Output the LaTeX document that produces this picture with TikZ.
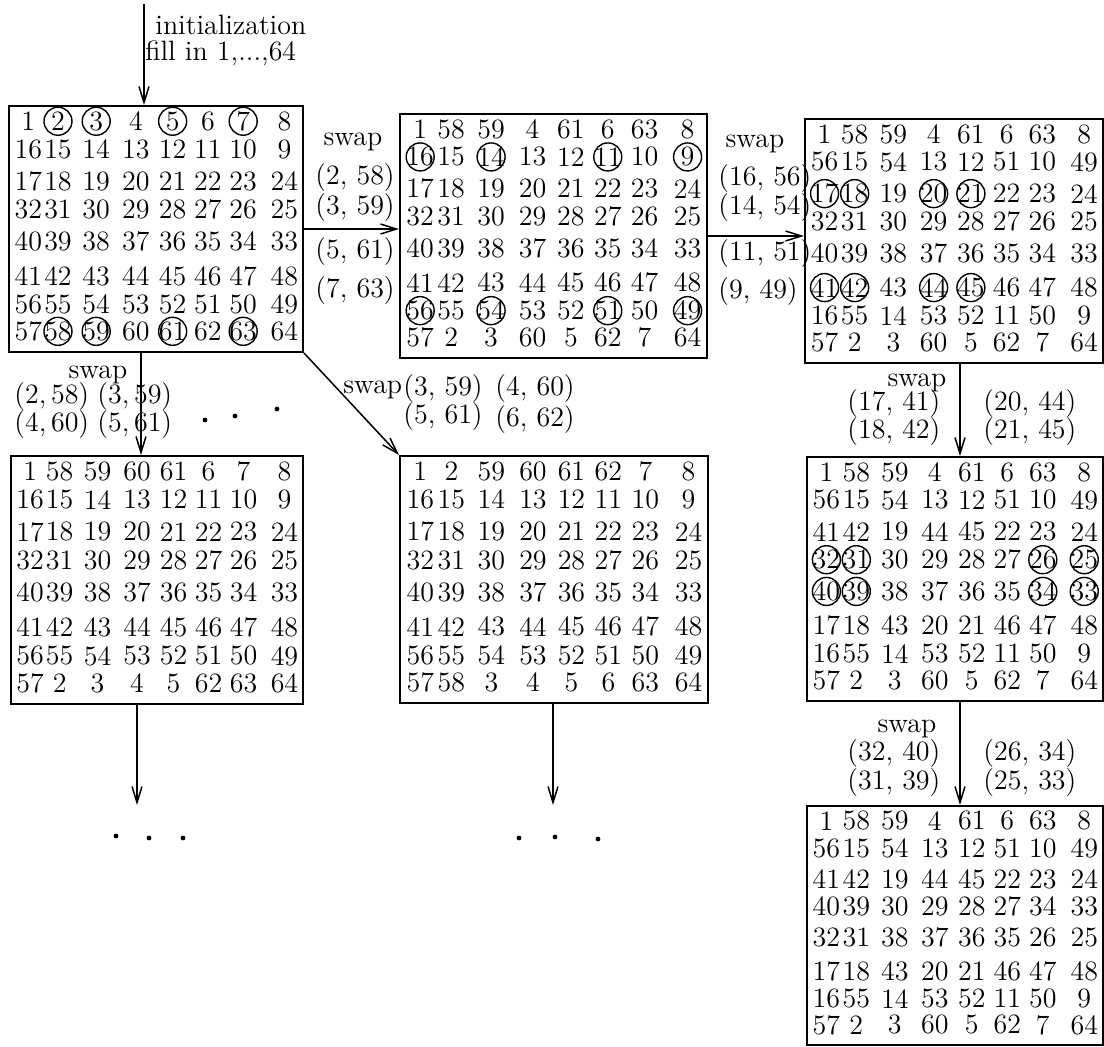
\documentclass[tikz,border=0pt]{standalone}
\usetikzlibrary{arrows.meta}
\tikzset{
  frame/.style={draw,line width=1pt,inner sep=0pt},
  num/.style={inner sep=0pt,font=\fontsize{14}{17}\selectfont},
  lbl/.style={inner sep=0pt,font=\fontsize{14}{17}\selectfont},
  arr/.style={line width=0.75pt,-{Straight Barb[length=8pt,width=5pt]}},
  ring/.style={line width=0.7pt}
}
\newcommand{\perm}[6]{%
  \node[frame,anchor=north west,minimum width=#4*0.5pt,minimum height=#5*0.5pt] (#1) at (#2,#3) {};
  \foreach \row [count=\ri] in {#6}{
    \foreach \val [count=\ci] in \row{
      \pgfmathsetmacro{\nx}{#2+#4*{0.069,0.17,0.30,0.435,0.56,0.68,0.80,0.94}[\ci-1]}
      \pgfmathsetmacro{\ny}{#3+#5*{0.066,0.18,0.31,0.425,0.555,0.695,0.81,0.92}[\ri-1]}
      \node[num] (#1-\ri-\ci) at (\nx,\ny) {\val};
    }
  }
}

\begin{document}
\begin{tikzpicture}[x=0.5pt,y=-0.5pt]
\useasboundingbox (0,0) rectangle (1104,1046);
\perm{b1}{8}{105}{294}{246}{{1,2,3,4,5,6,7,8},{16,15,14,13,12,11,10,9},{17,18,19,20,21,22,23,24},{32,31,30,29,28,27,26,25},{40,39,38,37,36,35,34,33},{41,42,43,44,45,46,47,48},{56,55,54,53,52,51,50,49},{57,58,59,60,61,62,63,64}}
\perm{b2}{399}{113}{307}{244}{{1,58,59,4,61,6,63,8},{16,15,14,13,12,11,10,9},{17,18,19,20,21,22,23,24},{32,31,30,29,28,27,26,25},{40,39,38,37,36,35,34,33},{41,42,43,44,45,46,47,48},{56,55,54,53,52,51,50,49},{57,2,3,60,5,62,7,64}}
\perm{b3}{804}{118}{298}{244}{{1,58,59,4,61,6,63,8},{56,15,54,13,12,51,10,49},{17,18,19,20,21,22,23,24},{32,31,30,29,28,27,26,25},{40,39,38,37,36,35,34,33},{41,42,43,44,45,46,47,48},{16,55,14,53,52,11,50,9},{57,2,3,60,5,62,7,64}}
\perm{b4}{10}{455}{292}{248}{{1,58,59,60,61,6,7,8},{16,15,14,13,12,11,10,9},{17,18,19,20,21,22,23,24},{32,31,30,29,28,27,26,25},{40,39,38,37,36,35,34,33},{41,42,43,44,45,46,47,48},{56,55,54,53,52,51,50,49},{57,2,3,4,5,62,63,64}}
\perm{b5}{399}{455}{308}{247}{{1,2,59,60,61,62,7,8},{16,15,14,13,12,11,10,9},{17,18,19,20,21,22,23,24},{32,31,30,29,28,27,26,25},{40,39,38,37,36,35,34,33},{41,42,43,44,45,46,47,48},{56,55,54,53,52,51,50,49},{57,58,3,4,5,6,63,64}}
\perm{b6}{806}{456}{296}{244}{{1,58,59,4,61,6,63,8},{56,15,54,13,12,51,10,49},{41,42,19,44,45,22,23,24},{32,31,30,29,28,27,26,25},{40,39,38,37,36,35,34,33},{17,18,43,20,21,46,47,48},{16,55,14,53,52,11,50,9},{57,2,3,60,5,62,7,64}}
\perm{b7}{806}{805}{296}{239}{{1,58,59,4,61,6,63,8},{56,15,54,13,12,51,10,49},{41,42,19,44,45,22,23,24},{40,39,30,29,28,27,34,33},{32,31,38,37,36,35,26,25},{17,18,43,20,21,46,47,48},{16,55,14,53,52,11,50,9},{57,2,3,60,5,62,7,64}}
\foreach \n in {b1-1-2,b1-1-3,b1-1-5,b1-1-7,b1-8-2,b1-8-3,b1-8-5,b1-8-7,b2-2-1,b2-2-3,b2-2-6,b2-2-8,b2-7-1,b2-7-3,b2-7-6,b2-7-8,b3-3-1,b3-3-2,b3-3-4,b3-3-5,b3-6-1,b3-6-2,b3-6-4,b3-6-5,b6-4-1,b6-4-2,b6-4-7,b6-4-8,b6-5-1,b6-5-2,b6-5-7,b6-5-8}
  \draw[ring] (\n) circle (7pt);
\foreach \n/\x/\y in {top/144/4,e4/137/805,e5/553/805}{\coordinate (\n) at (\x,\y);}
\draw[arr] (top) -- (top |- b1.north);
\draw[arr] (b1.east) -- (b1.east -| b2.west);
\draw[arr] (b2.east) -- (b2.east -| b3.west);
\draw[arr] ([xshift=-7.5pt]b1.south) -- ([xshift=-7.5pt]b1.south |- b4.north);
\draw[arr] (b1.south east) -- (b5.north west);
\draw[arr] ([xshift=3pt]b3.south) -- ([xshift=3pt]b3.south |- b6.north);
\draw[arr] ([xshift=2.5pt]b6.south) -- ([xshift=2.5pt]b6.south |- b7.north);
\draw[arr] (b4.south -| e4) -- (e4);
\draw[arr] (b5.south -| e5) -- (e5);
\node[lbl,anchor=base west] (ini) at (155,34) {initialization};
\node[lbl,anchor=base west] (fill) at (145,60) {fill in 1,...,64};
\foreach \n/\x/\y in {sw12/353/145,sw23/755/147,sw14/98/378,sw36/917/386,sw67/907/732}
  \node[lbl,anchor=base] (\n) at (\x,\y) {swap};
\node[lbl,anchor=base west] (sw15) at (343,393) {swap};
\foreach \n/\x/\y/\t in {p1/315/178/{(2, 58)},p2/315/208/{(3, 59)},p3/315/252/{(5, 61)},p4/315/291/{(7, 63)},
  q1/718/179/{(16, 56)},q2/718/208/{(14, 54)},q3/718/254/{(11, 51)},q4/718/292/{(9, 49)},
  r1/14/397/{(2,\,58)},r2/14/425/{(4,\,60)},r3/97/397/{(3,\,59)},r4/97/425/{(5,\,61)},
  s1/403/389/{(3, 59)},s2/403/417/{(5, 61)},s3/495/389/{(4, 60)},s4/495/420/{(6, 62)},
  t1/847/404/{(17, 41)},t2/847/432/{(18, 42)},t3/983/404/{(20, 44)},t4/983/432/{(21, 45)},
  u1/847/753/{(32, 40)},u2/847/782/{(31, 39)},u3/983/753/{(26, 34)},u4/983/782/{(25, 33)}}
  \node[lbl,anchor=west] (\n) at (\x,\y) {\t};
\foreach \x/\y in {205/420,235/416,277/409,116/836,149/838,183/838,519/838,555/837,598/839}
  \fill (\x,\y) circle (1.2pt);
\end{tikzpicture}
\end{document}
